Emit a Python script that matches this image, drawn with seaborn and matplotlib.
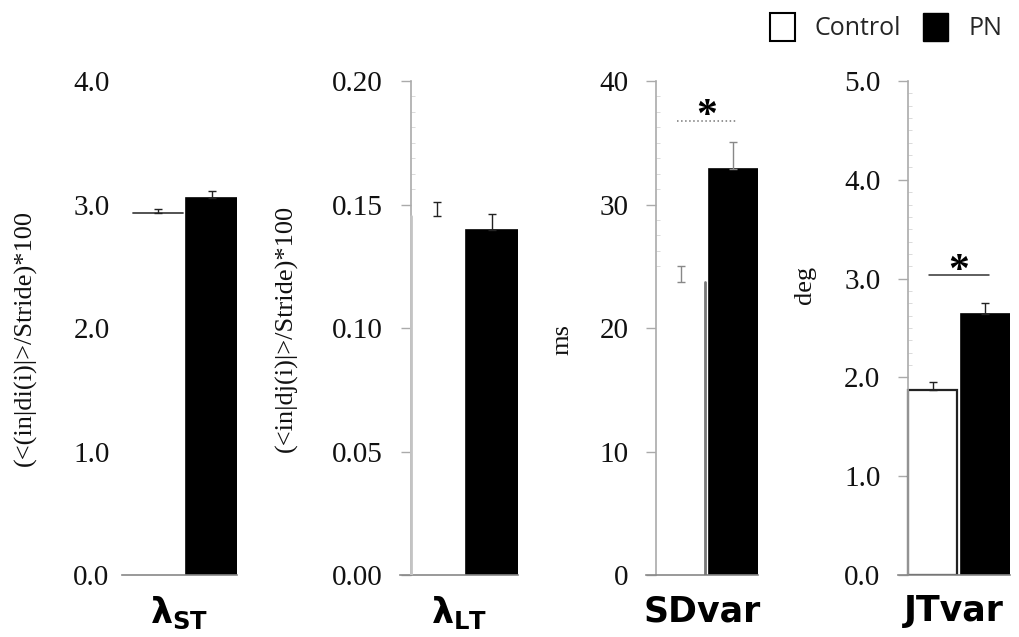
import matplotlib
matplotlib.use("Agg")
import matplotlib.pyplot as plt
import numpy as np
import pandas as pd
import seaborn as sns
from matplotlib.patches import Patch
from matplotlib.ticker import MultipleLocator, FixedLocator

# Gait variability measures, Control vs PN (mean, upper error = SEM)
groups = ["Control", "PN"]
means_control = [2.93, 0.1455, 23.7, 1.87]
means_pn = [3.05, 0.1396, 32.9, 2.64]
sem_control = [0.03, 0.0055, 1.3, 0.08]
sem_pn = [0.06, 0.0064, 2.2, 0.11]

y_max = [4.0, 0.20, 40, 5.0]
y_steps = [1.0, 0.05, 10, 1.0]
tick_formats = ["{:.1f}", "{:.2f}", "{:.0f}", "{:.1f}"]
y_titles = ["(<(in|di(i)|>/Stride)*100", "(<in|dj(i)|>/Stride)*100", "ms", "deg"]
x_titles = [r"$\mathbf{λ_{ST}}$", r"$\mathbf{λ_{LT}}$", "SDvar", "JTvar"]
significance_y = [None, None, 36.8, 3.04]

sns.set_style("white")
plt.rcParams["font.family"] = ["Liberation Serif", "DejaVu Serif"]
plt.rcParams["mathtext.fontset"] = "custom"
plt.rcParams["mathtext.bf"] = "DejaVu Sans:bold"
plt.rcParams["mathtext.rm"] = "DejaVu Sans"

fig = plt.figure(figsize=(10.2, 6.37), dpi=100)

# axes rectangles in figure fraction
bottom, height = 0.0973, 0.7755
rects = [
    [0.1196, bottom, 0.1127, height],
    [0.3922, bottom, 0.1157, height],
    [0.6333, bottom, 0.1098, height],
    [0.8804, bottom, 0.1098, height],
]
ylabel_pos = [(-0.84, 0.48), (-0.96, 0.50), (-0.75, 0.476), (-0.83, 0.587)]

bar_width = 0.93
spine_x = -bar_width / 2

for i in range(4):
    ax = fig.add_axes(rects[i])
    df = pd.DataFrame({"group": groups, "value": [means_control[i], means_pn[i]]})
    sns.barplot(data=df, x="group", y="value", hue="group", order=groups,
                hue_order=groups, palette={"Control": "white", "PN": "black"},
                width=bar_width, errorbar=None, legend=False, ax=ax,
                linewidth=1.2)
    control_bar, pn_bar = ax.patches[0], ax.patches[1]
    pn_bar.set_edgecolor("black")
    x0 = control_bar.get_x()
    x1 = x0 + control_bar.get_width()
    h = control_bar.get_height()
    if i == 3:
        control_bar.set_edgecolor("#222222")
        control_bar.set_linewidth(1.6)
    else:
        # only one faint outline edge of the open bar remains visible
        control_bar.set_edgecolor("none")
        if i == 0:
            ax.plot([x0, x1], [h, h], color="#444444", lw=1.3, zorder=3)
        elif i == 1:
            ax.plot([x0, x0], [0, h], color="#c4c4c4", lw=2.0, zorder=3)
        else:
            ax.plot([x1, x1], [0, h], color="#777777", lw=2.0, zorder=3)

    # upper error bars only
    err_color = "#888888" if i == 2 else "#222222"
    ax.errorbar([0, 1], [means_control[i], means_pn[i]],
                yerr=[[0, 0], [sem_control[i], sem_pn[i]]],
                fmt="none", ecolor=err_color, elinewidth=1.0, capsize=3,
                capthick=1.0, zorder=3)

    ax.set_xlim(-0.66, 1.47)
    ax.set_ylim(0, y_max[i])
    ticks = np.arange(0, y_max[i] + y_steps[i] / 2, y_steps[i])
    ax.yaxis.set_major_locator(FixedLocator(ticks))
    ax.set_yticklabels([tick_formats[i].format(t) for t in ticks])
    ax.yaxis.set_minor_locator(MultipleLocator(y_steps[i] / 8))
    ax.tick_params(axis="y", which="major", direction="out", length=7,
                   width=1, color="#aaaaaa", pad=13, labelsize=21,
                   left=True, labelcolor="#111111")
    ax.tick_params(axis="y", which="minor", direction="in", length=3,
                   width=0.6, color="#d4d4d4", left=True)
    ax.set_xticks([])

    for side in ["top", "right"]:
        ax.spines[side].set_visible(False)
    ax.spines["left"].set_position(("data", spine_x))
    ax.spines["left"].set_color("#aaaaaa")
    ax.spines["left"].set_linewidth(1.2)
    ax.spines["bottom"].set_color("#888888")
    ax.spines["bottom"].set_linewidth(1.2)
    if i == 0:
        ax.spines["left"].set_visible(False)
        ax.tick_params(axis="y", which="both", length=0, pad=16.5)

    ax.set_ylabel(y_titles[i], fontsize=19, color="#111111")
    ax.yaxis.label.set_verticalalignment("center")
    ax.yaxis.set_label_coords(*ylabel_pos[i])

    ax.set_xlabel(x_titles[i], fontsize=25, fontweight="bold",
                  family="DejaVu Sans", labelpad=14, color="black")
    ax.grid(False)

    if significance_y[i] is not None:
        style = ":" if i == 2 else "-"
        color = "#777777" if i == 2 else "#333333"
        ax.plot([-0.07, 1.08], [significance_y[i]] * 2, linestyle=style,
                color=color, linewidth=1.1)
        ax.annotate("*", xy=(0.5, significance_y[i]), xytext=(0, -5),
                    textcoords="offset points", ha="center", va="baseline",
                    fontsize=30, fontweight="bold", color="black")

handles = [Patch(facecolor="white", edgecolor="black", linewidth=1.5),
           Patch(facecolor="black", edgecolor="black")]
fig.legend(handles, groups, loc="upper right",
           bbox_to_anchor=(1002 / 1020, 1 - 13 / 637), ncol=2, frameon=False,
           prop={"family": "Open Sans", "size": 18}, handlelength=1.0,
           handleheight=1.35, handletextpad=0.8, columnspacing=0.88,
           borderaxespad=0, borderpad=0)

fig.savefig("out.png", dpi=100)
